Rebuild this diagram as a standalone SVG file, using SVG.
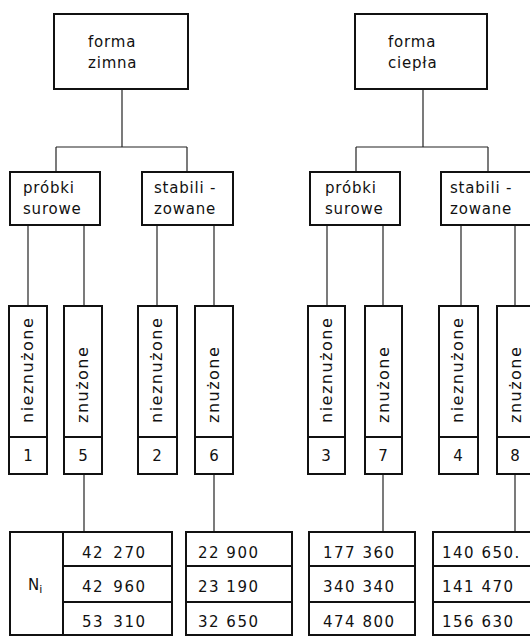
<svg xmlns="http://www.w3.org/2000/svg" width="530" height="637" viewBox="0 0 530 637">
<style>
rect{fill:#fff;stroke:#111;stroke-width:2}
.c line{stroke:#222;stroke-width:1.2}
text{font-family:"DejaVu Sans","Liberation Sans",sans-serif;fill:#111}
.t{font-size:15px;letter-spacing:0.8px}
.v{font-size:16px;letter-spacing:1.5px}
.n{font-size:15px;letter-spacing:1.5px}
.d{font-size:15px;text-anchor:middle}
</style>
<rect x="0" y="0" width="530" height="637" style="stroke:none"/>
<g class="c" id="connectors">
<line x1="122" y1="89" x2="122" y2="147"/>
<line x1="56" y1="147" x2="187" y2="147"/>
<line x1="56" y1="147" x2="56" y2="172"/>
<line x1="187" y1="147" x2="187" y2="172"/>
<line x1="423" y1="89" x2="423" y2="147"/>
<line x1="356" y1="147" x2="488" y2="147"/>
<line x1="356" y1="147" x2="356" y2="172"/>
<line x1="488" y1="147" x2="488" y2="172"/>
<line x1="28" y1="225" x2="28" y2="306"/>
<line x1="84" y1="225" x2="84" y2="306"/>
<line x1="157" y1="225" x2="157" y2="306"/>
<line x1="214" y1="225" x2="214" y2="306"/>
<line x1="327" y1="225" x2="327" y2="306"/>
<line x1="383" y1="225" x2="383" y2="306"/>
<line x1="461" y1="225" x2="461" y2="306"/>
<line x1="515" y1="225" x2="515" y2="306"/>
<line x1="84" y1="474" x2="84" y2="532"/>
<line x1="214" y1="474" x2="214" y2="532"/>
<line x1="383" y1="474" x2="383" y2="532"/>
<line x1="515" y1="474" x2="515" y2="532"/>
</g>
<g id="forma-zimna"><rect x="54" y="14" width="134" height="75"/><text class="t" x="88" y="47">forma</text><text class="t" x="88" y="68">zimna</text></g>
<g id="forma-ciepla"><rect x="355" y="14" width="132" height="75"/><text class="t" x="388" y="47">forma</text><text class="t" x="388" y="68">ciepła</text></g>
<g id="probki-z"><rect x="10" y="172" width="90" height="53"/><text class="t" x="23" y="193">próbki</text><text class="t" x="23" y="214">surowe</text></g>
<g id="stab-z"><rect x="142" y="172" width="91" height="53"/><text class="t" x="154" y="193">stabili -</text><text class="t" x="154" y="214">zowane</text></g>
<g id="probki-c"><rect x="310" y="172" width="90" height="53"/><text class="t" x="325" y="193">próbki</text><text class="t" x="325" y="214">surowe</text></g>
<g id="stab-c"><rect x="441" y="172" width="100" height="53"/><text class="t" x="450" y="193">stabili -</text><text class="t" x="450" y="214">zowane</text></g>
<g id="s1"><rect x="9" y="306" width="38" height="131"/><text class="v" transform="translate(33,423) rotate(-90)">nieznużone</text><rect x="9" y="437" width="38" height="37"/><text class="d" x="28" y="461">1</text></g>
<g id="s5"><rect x="64" y="306" width="38" height="131"/><text class="v" transform="translate(88,423) rotate(-90)">znużone</text><rect x="64" y="437" width="38" height="37"/><text class="d" x="83" y="461">5</text></g>
<g id="s2"><rect x="138" y="306" width="39" height="131"/><text class="v" transform="translate(162,423) rotate(-90)">nieznużone</text><rect x="138" y="437" width="39" height="37"/><text class="d" x="157" y="461">2</text></g>
<g id="s6"><rect x="195" y="306" width="38" height="131"/><text class="v" transform="translate(219,423) rotate(-90)">znużone</text><rect x="195" y="437" width="38" height="37"/><text class="d" x="214" y="461">6</text></g>
<g id="s3"><rect x="308" y="306" width="37" height="131"/><text class="v" transform="translate(332,423) rotate(-90)">nieznużone</text><rect x="308" y="437" width="37" height="37"/><text class="d" x="326" y="461">3</text></g>
<g id="s7"><rect x="365" y="306" width="37" height="131"/><text class="v" transform="translate(389,423) rotate(-90)">znużone</text><rect x="365" y="437" width="37" height="37"/><text class="d" x="383" y="461">7</text></g>
<g id="s4"><rect x="439" y="306" width="39" height="131"/><text class="v" transform="translate(463,423) rotate(-90)">nieznużone</text><rect x="439" y="437" width="39" height="37"/><text class="d" x="458" y="461">4</text></g>
<g id="s8"><rect x="497" y="306" width="40" height="131"/><text class="v" transform="translate(521,423) rotate(-90)">znużone</text><rect x="497" y="437" width="40" height="37"/><text class="d" x="515" y="461">8</text></g>
<g id="table-5">
<rect x="10" y="532" width="53" height="103"/>
<text x="28" y="590" style="font-size:15px">N<tspan dy="3" style="font-size:11px">i</tspan></text>
<rect x="63" y="532" width="109" height="34"/><rect x="63" y="566" width="109" height="36"/><rect x="63" y="602" width="109" height="33"/>
<text class="n" x="82" y="558" style="word-spacing:3px">42 270</text>
<text class="n" x="82" y="592" style="word-spacing:3px">42 960</text>
<text class="n" x="82" y="627" style="word-spacing:3px">53 310</text>
</g>
<g id="table-6">
<rect x="186" y="532" width="106" height="34"/><rect x="186" y="566" width="106" height="36"/><rect x="186" y="602" width="106" height="33"/>
<text class="n" x="198" y="558">22 900</text>
<text class="n" x="198" y="592">23 190</text>
<text class="n" x="198" y="627">32 650</text>
</g>
<g id="table-7">
<rect x="309" y="532" width="106" height="34"/><rect x="309" y="566" width="106" height="36"/><rect x="309" y="602" width="106" height="33"/>
<text class="n" x="323" y="558">177 360</text>
<text class="n" x="323" y="592">340 340</text>
<text class="n" x="323" y="627">474 800</text>
</g>
<g id="table-8">
<rect x="433" y="532" width="110" height="34"/><rect x="433" y="566" width="110" height="36"/><rect x="433" y="602" width="110" height="33"/>
<text class="n" x="442" y="558">140 650.</text>
<text class="n" x="442" y="592">141 470</text>
<text class="n" x="442" y="627">156 630</text>
</g>
</svg>
